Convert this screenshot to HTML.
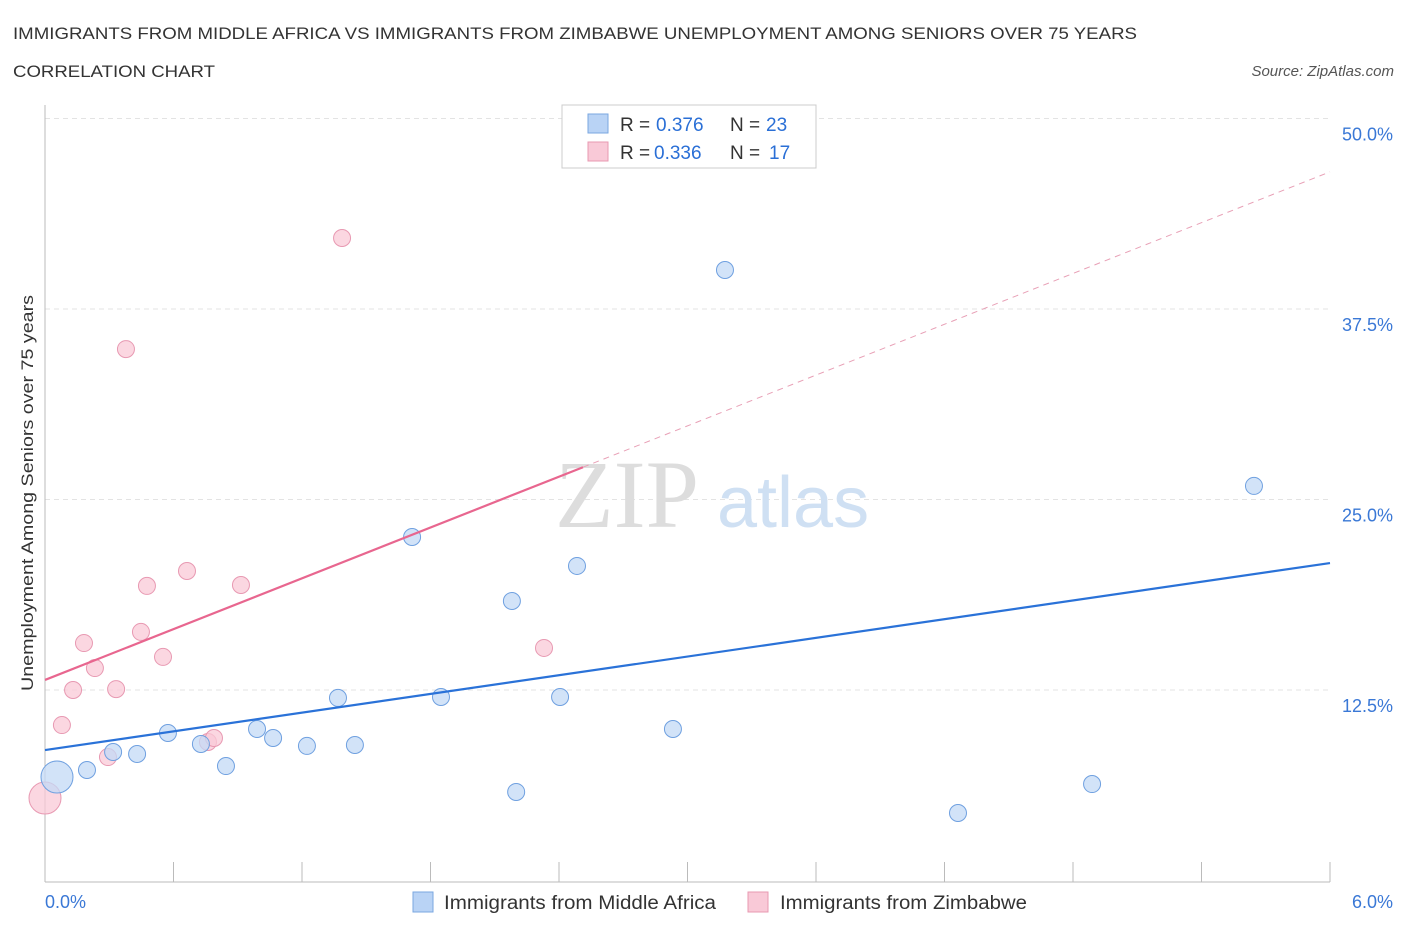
<!DOCTYPE html>
<html><head><meta charset="utf-8"><style>
body{margin:0;background:#fff;font-family:"Liberation Sans",sans-serif;}
</style></head><body>
<svg id="chart" width="1406" height="930" xmlns="http://www.w3.org/2000/svg" style="font-family:'Liberation Sans',sans-serif">
<text x="13" y="39" font-size="17" fill="#333" textLength="1124" lengthAdjust="spacingAndGlyphs">IMMIGRANTS FROM MIDDLE AFRICA VS IMMIGRANTS FROM ZIMBABWE UNEMPLOYMENT AMONG SENIORS OVER 75 YEARS</text>
<text x="13" y="77" font-size="17" fill="#333" textLength="202" lengthAdjust="spacingAndGlyphs">CORRELATION CHART</text>
<text x="1394" y="76" font-size="15" fill="#555" text-anchor="end" font-style="italic">Source: ZipAtlas.com</text>
<g id="grid"></g>
<text x="555" y="527" font-size="96" fill="#ddd" font-family="Liberation Serif">ZIP</text>
<text x="717" y="527" font-size="72" fill="#cfe0f3">atlas</text>
<g id="marks"></g>
<text transform="translate(33,493) rotate(-90)" font-size="17" fill="#333" text-anchor="middle" textLength="396" lengthAdjust="spacingAndGlyphs">Unemployment Among Seniors over 75 years</text>
<g>
<rect x="562" y="105" width="254" height="63" fill="#fff" stroke="#ccc"/>
<rect x="588" y="114" width="20" height="19" fill="#b9d3f5" stroke="#7aa7e0"/>
<text x="620" y="131" font-size="19" fill="#333">R =</text>
<text x="656" y="131" font-size="19" fill="#2a6fd6">0.376</text>
<text x="730" y="131" font-size="19" fill="#333">N =</text>
<text x="766" y="131" font-size="19" fill="#2a6fd6">23</text>
<rect x="588" y="142" width="20" height="19" fill="#f9c9d7" stroke="#e899b2"/>
<text x="620" y="159" font-size="19" fill="#333">R =</text>
<text x="654" y="159" font-size="19" fill="#2a6fd6">0.336</text>
<text x="730" y="159" font-size="19" fill="#333">N =</text>
<text x="769" y="159" font-size="19" fill="#2a6fd6">17</text>
</g>
<g>
<rect x="413" y="892" width="20" height="20" fill="#b9d3f5" stroke="#7aa7e0"/>
<text x="444" y="909" font-size="19" fill="#333" textLength="272" lengthAdjust="spacingAndGlyphs">Immigrants from Middle Africa</text>
<rect x="748" y="892" width="20" height="20" fill="#f9c9d7" stroke="#e899b2"/>
<text x="780" y="909" font-size="19" fill="#333" textLength="247" lengthAdjust="spacingAndGlyphs">Immigrants from Zimbabwe</text>
</g>
</svg>
<script>
const yTicks=[12.5,25,37.5,50];
const yTickLabels=["12.5%","25.0%","37.5%","50.0%"];
const xTickCount=10;
const blueX=[0.056,0.196,0.318,0.43,0.574,0.728,0.845,0.99,1.065,1.223,1.368,1.447,1.714,1.849,2.18,2.2,2.405,2.484,2.932,3.175,4.263,4.889,5.645];
const blueY=[6.79,7.25,8.43,8.3,9.68,8.96,7.51,9.94,9.35,8.83,11.98,8.89,22.54,12.04,18.34,5.81,12.04,20.64,9.94,40.06,4.43,6.33,25.89];
const pinkX=[0,0.079,0.131,0.182,0.233,0.294,0.332,0.378,0.448,0.476,0.551,0.663,0.761,0.789,0.915,1.387,2.33];
const pinkY=[5.41,10.2,12.5,15.58,13.94,8.1,12.56,34.87,16.31,19.33,14.67,20.31,9.09,9.35,19.39,42.16,15.26];
const blueLine=[8.56,20.83];
const pinkLine=[13.16,46.5];
const pinkSolidEnd=2.512;
const NS="http://www.w3.org/2000/svg";
const xs=v=>45+v/6*1285, ys=v=>880.5-v/50*762;
function mk(t,a,p){const e=document.createElementNS(NS,t);for(const k in a)e.setAttribute(k,a[k]);p.appendChild(e);return e;}
const g=document.getElementById('grid'),m=document.getElementById('marks');
yTicks.forEach((t,i)=>{
 const l=mk('line',{x1:45,x2:1330,y1:ys(t),y2:ys(t),stroke:'#e3e3e3','stroke-dasharray':'5,4'},g);
 
 
 const tx=mk('text',{x:1393,y:ys(t)+22,'font-size':18,fill:'#3a78d6','text-anchor':'end'},g);
 tx.textContent=yTickLabels[i];
 
 
});
const ax=mk('line',{x1:45,x2:45,y1:105,y2:882,stroke:'#bbb'},g);


const bx=mk('line',{x1:45,x2:1330,y1:882,y2:882,stroke:'#bbb'},g);


for(let i=0;i<=xTickCount;i++){
 const t=mk('line',{x1:xs(i*0.6),x2:xs(i*0.6),y1:862,y2:882,stroke:'#bbb'},g);
 
 
}
[["0.0%",45,'start'],["6.0%",1393,'end']].forEach(a=>{
 const t=mk('text',{x:a[1],y:908,'font-size':18,fill:'#3a78d6','text-anchor':a[2]},g);t.textContent=a[0];
 
 
});
function dots(X,Y,fill,stroke,name){
 X.forEach((x,i)=>{
  const big=i===0;
  const c=mk('circle',{cx:xs(x),cy:ys(Y[i]),r:big?16:8.5,fill:fill,stroke:stroke,'stroke-width':1,'fill-opacity':0.75},m);
  
  
 });
}
dots(pinkX,pinkY,'#f9c9d7','#e899b2','zimbabwe-point');
dots(blueX,blueY,'#c3d9f5','#6fa0e0','middle-africa-point');
const bl=mk('line',{x1:xs(0),y1:ys(blueLine[0]),x2:xs(6),y2:ys(blueLine[1]),stroke:'#2a72d8','stroke-width':2.2},m);


const pm=v=>pinkLine[0]+(pinkLine[1]-pinkLine[0])*v/6;
const pl=mk('line',{x1:xs(0),y1:ys(pinkLine[0]),x2:xs(pinkSolidEnd),y2:ys(pm(pinkSolidEnd)),stroke:'#e8668f','stroke-width':2.2},m);


const pd=mk('line',{x1:xs(pinkSolidEnd),y1:ys(pm(pinkSolidEnd)),x2:xs(6),y2:ys(pinkLine[1]),stroke:'#e8a0b6','stroke-width':1,'stroke-dasharray':'6,5'},m);


</script>
</body></html>
